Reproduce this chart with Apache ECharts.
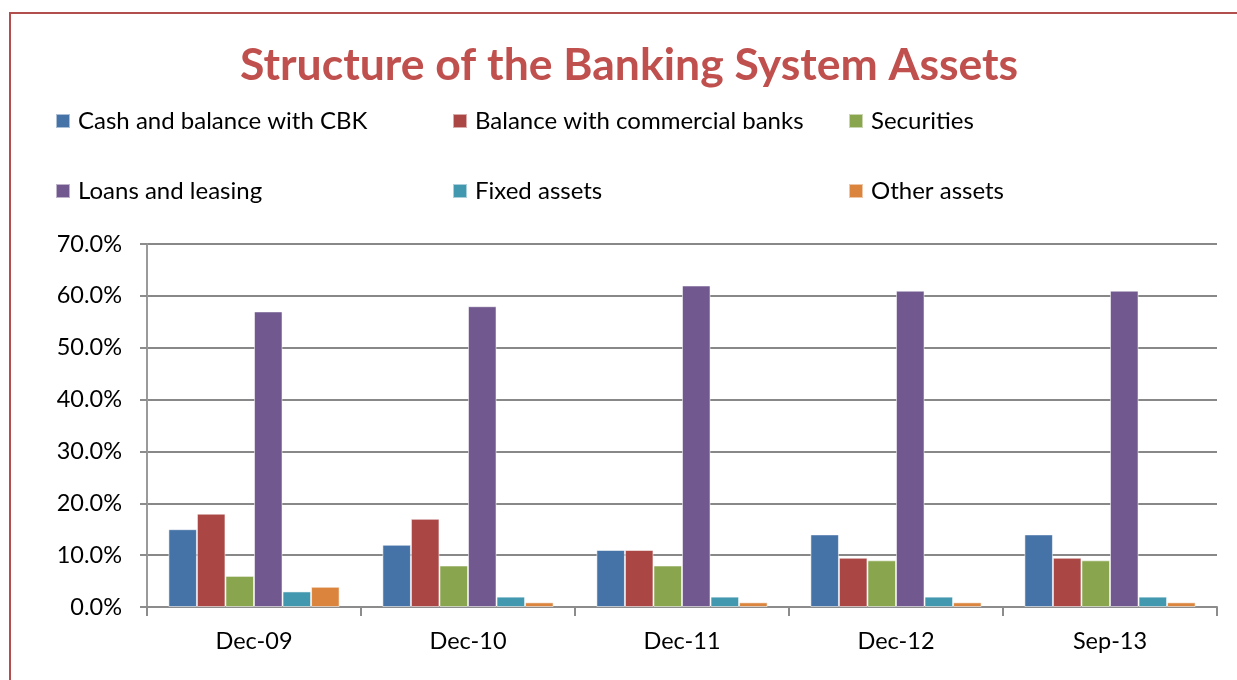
<!DOCTYPE html>
<html>
<head>
<meta charset="utf-8">
<script src="https://cdn.jsdelivr.net/npm/echarts@6/dist/echarts.min.js"></script>
<style>
  html, body { margin: 0; padding: 0; background: #fff; }
  #chart { width: 1237px; height: 680px; }
</style>
</head>
<body>
<div id="chart"></div>
<script>
// Periods on the category axis
const periods = ['Dec-09', 'Dec-10', 'Dec-11', 'Dec-12', 'Sep-13'];

// Share of total banking system assets, in percent
const cashCBK       = [15, 12, 11, 14, 14];
const commBanks     = [18, 17, 11, 9.5, 9.5];
const securities    = [6, 8, 8, 9, 9];
const loansLeasing  = [57, 58, 62, 61, 61];
const fixedAssets   = [3, 2, 2, 2, 2];
const otherAssets   = [3.9, 0.9, 0.9, 0.9, 0.9];

const seriesNames = [
  'Cash and balance with CBK', 'Balance with commercial banks', 'Securities',
  'Loans and leasing', 'Fixed assets', 'Other assets'
];
const seriesData = [cashCBK, commBanks, securities, loansLeasing, fixedAssets, otherAssets];
const palette = ['#4572A7', '#AA4643', '#89A54E', '#71588F', '#4198AF', '#DB843D'];

const FONT = 'Lato, "Open Sans", sans-serif';

const chart = echarts.init(document.getElementById('chart'), null, { renderer: 'canvas' });

// Legend laid out as a 3 x 2 grid: one legend component per entry
const legendCols = [55, 452, 848];
const legendRows = [109, 179];
const legends = seriesNames.map((name, i) => ({
  left: legendCols[i % 3],
  top: legendRows[Math.floor(i / 3)],
  padding: 0,
  itemWidth: 14,
  itemHeight: 14,
  icon: 'rect',
  selectedMode: false,
  data: [name],
  textStyle: { fontFamily: FONT, fontSize: 24, color: '#000', padding: [0, 0, 0, 3] }
}));

chart.setOption({
  color: palette,
  animation: false,
  textStyle: { fontFamily: FONT },
  title: {
    text: 'Structure of the Banking System Assets',
    left: 240,
    top: 43,
    padding: 0,
    textStyle: { fontFamily: FONT, fontSize: 44.5, fontWeight: 'bold', color: '#C0504D' }
  },
  legend: legends,
  grid: { left: 147, right: 20, top: 244, bottom: 73, containLabel: false },
  xAxis: {
    type: 'category',
    data: periods,
    axisLine: { lineStyle: { color: '#8c8c8c', width: 2 } },
    axisTick: { show: true, length: 9, alignWithLabel: false, lineStyle: { color: '#8c8c8c', width: 2 } },
    axisLabel: { fontFamily: FONT, fontSize: 23.5, color: '#000', margin: 22 }
  },
  yAxis: {
    type: 'value',
    min: 0,
    max: 70,
    interval: 10,
    axisLine: { show: true, lineStyle: { color: '#9a9a9a', width: 2 } },
    axisTick: { show: true, length: 7, lineStyle: { color: '#8c8c8c', width: 2 } },
    axisLabel: {
      fontFamily: FONT, fontSize: 23.5, color: '#000', margin: 25,
      formatter: v => v.toFixed(1) + '%'
    },
    splitLine: { lineStyle: { color: '#888888', width: 2 } }
  },
  series: seriesNames.map((name, i) => ({
    name,
    type: 'bar',
    data: seriesData[i],
    barGap: '0%',
    barCategoryGap: '20%',
    itemStyle: { color: palette[i], borderColor: 'rgba(255,255,255,0.55)', borderWidth: 1 }
  })),
  graphic: [{
    type: 'rect',
    shape: { x: 10, y: 13, width: 1260, height: 700 },
    style: { fill: 'none', stroke: '#B24E4C', lineWidth: 2 },
    silent: true
  }]
});
</script>
</body>
</html>
